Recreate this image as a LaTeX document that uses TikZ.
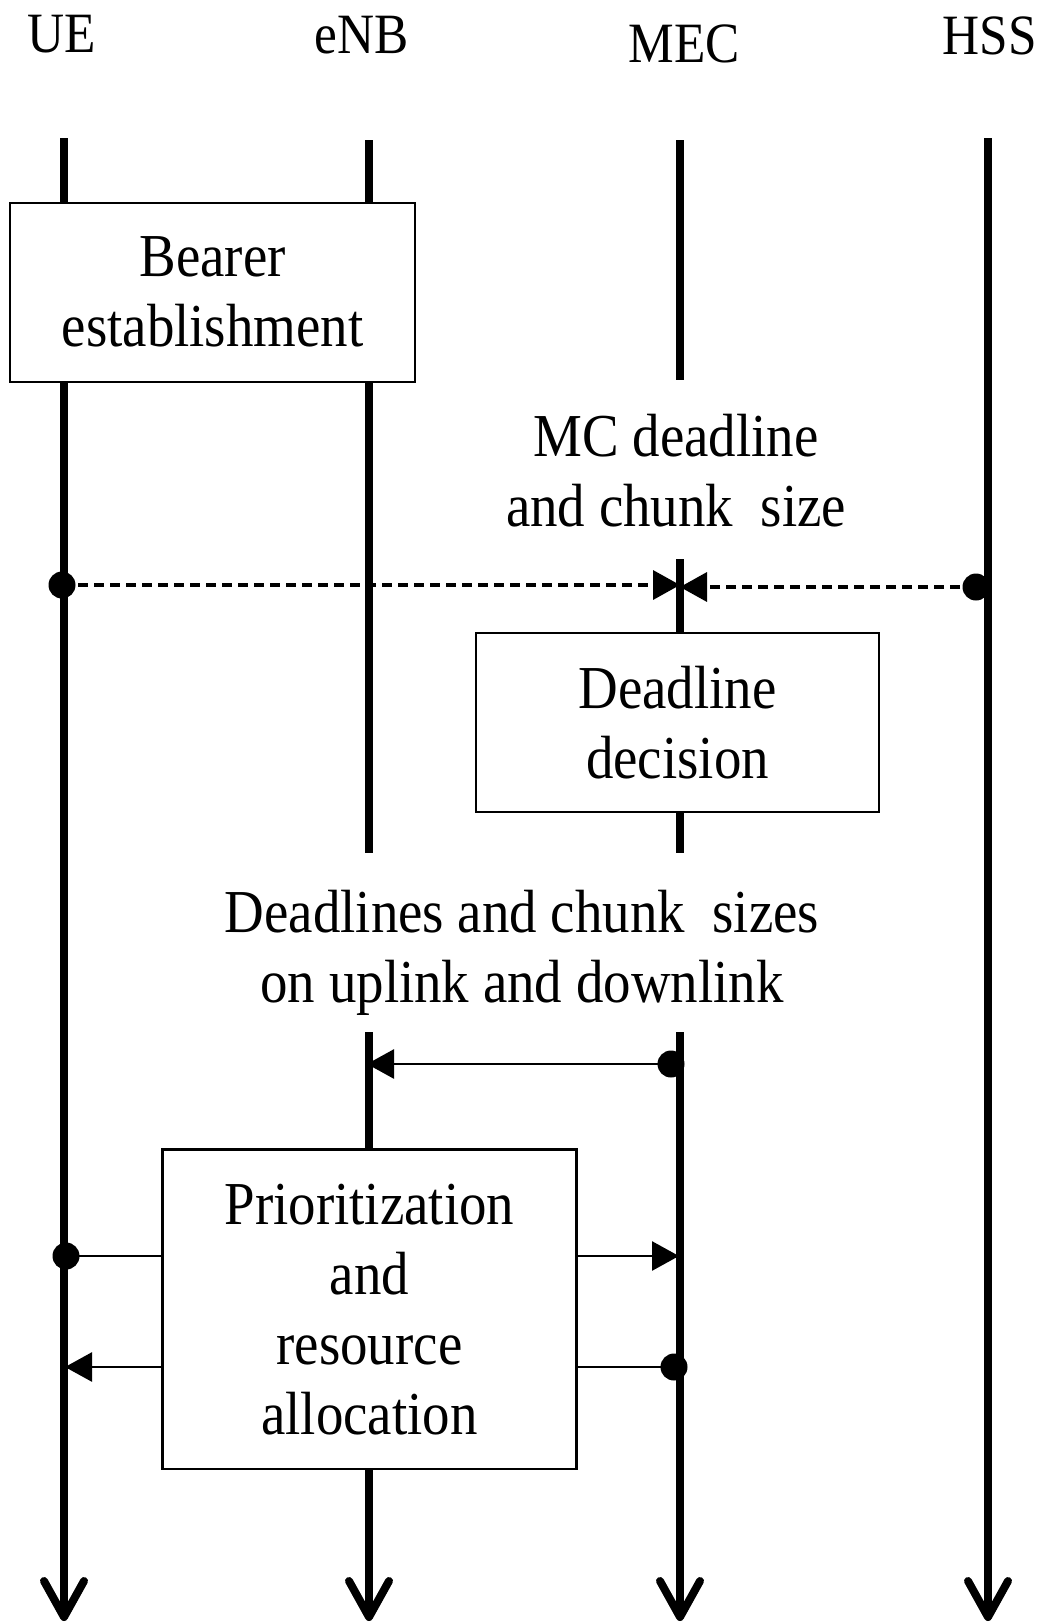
\documentclass[tikz,border=0pt]{standalone}
\usepackage{fontspec}
\setmainfont{Liberation Serif}[FakeStretch=0.9]
\usetikzlibrary{arrows.meta}

\begin{document}
\begin{tikzpicture}[x=1pt,y=-1pt,
  lifeline/.style={line width=8pt},
  lifeend/.style={lifeline,-{Straight Barb[length=36pt,width=40pt,round]}},
  actor/.style={font=\fontsize{57}{66}\selectfont,inner sep=0pt},
  stepbox/.style={draw,line width=2.2pt,fill=white,inner sep=0pt,align=center,
    font=\fontsize{61}{70}\selectfont},
  note/.style={align=center,inner sep=0pt,font=\fontsize{61}{70}\selectfont},
  msg/.style={line width=2.7pt,-{Triangle[length=27pt,width=29pt]}},
  plain/.style={line width=2.7pt},
  dmsg/.style={line width=3.5pt,dash pattern=on 10pt off 6pt,
    -{Triangle[length=27pt,width=29pt]}},
  dot/.style={circle,fill,inner sep=0pt,minimum size=27pt}
]
\useasboundingbox (0,0) rectangle (1046,1622);

% participants
\node[actor] (ue)  at (62,34)  {UE};
\node[actor] (enb) at (362,35) {eNB};
\node[actor] (mec) at (684,44) {MEC};
\node[actor] (hss) at (990,36) {HSS};

% lifeline end points
\coordinate (ueT)  at (64,138);   \coordinate (ueB)  at (64,1621);
\coordinate (enbT) at (369,140);  \coordinate (enbB) at (369,1621);
\coordinate (mecT) at (680,140);  \coordinate (mecB) at (680,1621);
\coordinate (hssT) at (988,138);  \coordinate (hssB) at (988,1621);
\coordinate (enbG1) at (369,853); \coordinate (enbG2) at (369,1032);
\coordinate (mecG1) at (680,380); \coordinate (mecG2) at (680,559);
\coordinate (mecG3) at (680,853); \coordinate (mecG4) at (680,1032);

% lifelines
\draw[lifeend] (ueT) -- (ueB);
\draw[lifeline] (enbT) -- (enbG1);
\draw[lifeend] (enbG2) -- (enbB);
\draw[lifeline] (mecT) -- (mecG1);
\draw[lifeline] (mecG2) -- (mecG3);
\draw[lifeend] (mecG4) -- (mecB);
\draw[lifeend] (hssT) -- (hssB);

% processing steps
\node[stepbox,minimum width=404.6pt,minimum height=179pt] (bearer)
  at (212.6,292.3) {Bearer\\establishment};
\node[stepbox,minimum width=403pt,minimum height=179pt] (decide)
  at (677.5,722.5) {Deadline\\decision};
\node[stepbox,minimum width=414pt,minimum height=319.5pt] (prio)
  at (369.4,1309.3) {Prioritization\\and\\resource\\allocation};

% message labels
\node[note] (mcnote) at (676,471) {MC deadline\\and chunk\ \ size};
\node[note] (dlnote) at (522,953) {Deadlines and chunk\ \ sizes\\on uplink and downlink};

% MC deadline and chunk size from UE and HSS
\node[dot] (ueS) at (62,585) {};
\node[dot] (hssS) at (976,587) {};
\coordinate (mecIn1) at (680,585);
\coordinate (mecIn2) at (680,587);
\draw[dmsg] (ueS.center) -- (mecIn1);
\draw[dmsg] (hssS.center) -- (mecIn2);

% deadlines from MEC to eNB
\node[dot] (mecS) at (671,1064) {};
\coordinate (enbIn) at (367,1064);
\draw[msg] (mecS.center) -- (enbIn);

% uplink and downlink through the allocation step
\node[dot] (ueUp) at (66,1256) {};
\coordinate (mecUp) at (679,1256);
\draw[plain] (ueUp.center) -- (ueUp.center -| prio.west);
\draw[msg] (ueUp.center -| prio.east) -- (mecUp);
\node[dot] (mecDn) at (674,1367) {};
\coordinate (ueDn) at (65,1367);
\draw[plain] (mecDn.center) -- (mecDn.center -| prio.east);
\draw[msg] (mecDn.center -| prio.west) -- (ueDn);
\end{tikzpicture}
\end{document}
